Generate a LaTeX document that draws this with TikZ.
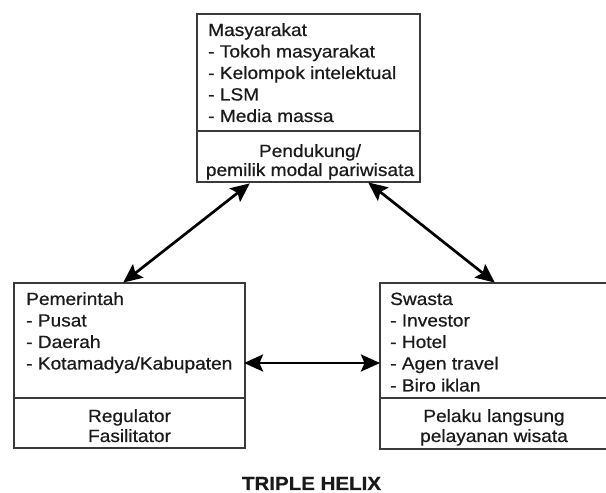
\documentclass[tikz,border=0pt]{standalone}
\usepackage{fontspec}
\setmainfont{Liberation Sans}[FakeStretch=1.08,FakeBold=0.6]
\usetikzlibrary{arrows.meta}
\definecolor{ink}{HTML}{1A1A1A}
\definecolor{frame}{HTML}{3A3A3A}
\tikzset{
  boxframe/.style={draw=frame, line width=1.4pt, inner sep=0pt},
  divline/.style={draw=frame, line width=1.4pt},
  lbl/.style={anchor=base west, inner sep=0pt, text=ink, font=\fontsize{17.7}{20}\selectfont},
  clbl/.style={anchor=base, inner sep=0pt, text=ink, font=\fontsize{17.7}{20}\selectfont},
  link/.style={draw=black, line width=2.7pt, {Stealth[length=19pt,width=17pt,inset=3.5pt]}-{Stealth[length=19pt,width=17pt,inset=3.5pt]}, shorten <=-1pt, shorten >=-1pt}
}
\begin{document}
\begin{tikzpicture}[x=1pt,y=1pt]
\useasboundingbox (0,0) rectangle (606,493);
% boxes
\node[boxframe, minimum width=223pt, minimum height=168pt] (top) at (308.5,395) {};
\node[boxframe, minimum width=231pt, minimum height=165pt] (left) at (129.5,127.5) {};
\node[boxframe, minimum width=228pt, minimum height=166pt] (right) at (494,127) {};
\draw[divline] (197,362) -- (420,362);
\draw[divline] (14,95) -- (245,95);
\draw[divline] (380,95) -- (608,95);
% top texts
\node[lbl] (t1) at (208,457) {Masyarakat};
\node[lbl] (t2) at (208,435.5) {- Tokoh masyarakat};
\node[lbl] (t3) at (208,414) {- Kelompok intelektual};
\node[lbl] (t4) at (208,392.5) {- LSM};
\node[lbl] (t5) at (208,371) {- Media massa};
\node[clbl] (t6) at (310,336) {Pendukung/};
\node[clbl] (t7) at (310,317) {pemilik modal pariwisata};
% left texts
\node[lbl] (l1) at (26,188) {Pemerintah};
\node[lbl] (l2) at (26,166.5) {- Pusat};
\node[lbl] (l3) at (26,145) {- Daerah};
\node[lbl] (l4) at (26,123.5) {- Kotamadya/Kabupaten};
\node[clbl] (l5) at (129.5,71) {Regulator};
\node[clbl] (l6) at (129.5,51) {Fasilitator};
% right texts
\node[lbl] (r1) at (390,188) {Swasta};
\node[lbl] (r2) at (390,166.5) {- Investor};
\node[lbl] (r3) at (390,145) {- Hotel};
\node[lbl] (r4) at (390,123.5) {- Agen travel};
\node[lbl] (r5) at (390,101.5) {- Biro iklan};
\node[clbl] (r6) at (494,71) {Pelaku langsung};
\node[clbl] (r7) at (494,51) {pelayanan wisata};
% title
\node[anchor=base, inner sep=0pt, text=ink, font=\fontsize{19}{22}\selectfont\bfseries] (title) at (311.5,3) {TRIPLE HELIX};
% connectors
\coordinate (a1) at (249,309);
\coordinate (a2) at (124,211);
\coordinate (b1) at (369,310);
\coordinate (b2) at (494,211);
\coordinate (c1) at (245,130);
\coordinate (c2) at (379,130);
\draw[link] (a1) -- (a2);
\draw[link] (b1) -- (b2);
\draw[link] (c1) -- (c2);
\end{tikzpicture}
\end{document}
